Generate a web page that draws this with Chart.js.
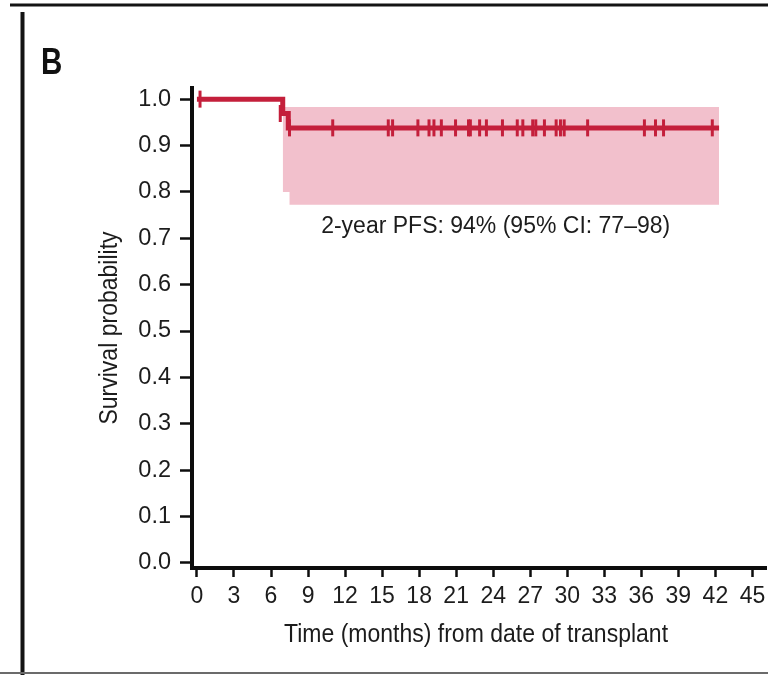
<!DOCTYPE html>
<html>
<head>
<meta charset="utf-8">
<title>Progression-free survival</title>
<script src="https://cdn.jsdelivr.net/npm/chart.js@4.4.1/dist/chart.umd.min.js"></script>
<style>
  html, body { margin: 0; padding: 0; background: #ffffff; }
  canvas { display: block; }
</style>
</head>
<body>
<canvas id="pfs" width="768" height="675"></canvas>
<script>
// Kaplan-Meier estimate (months from transplant, survival probability)
const kmTimes = [0, 6.95, 7.4, 42.3];
const kmSurvival = [1.0, 0.969, 0.938, 0.938];

// 95% confidence band
const ciTimes = [6.95, 7.5, 42.3];
const ciUpper = [0.983, 0.983, 0.983];
const ciLower = [0.80, 0.772, 0.772];

// Censored observations
const censorTimes = [0.25, 6.75, 7.5, 11.0, 15.5, 15.85, 17.9, 18.8, 19.2, 19.8,
  20.95, 22.0, 22.15, 22.9, 23.45, 24.75, 25.95, 26.4, 27.2, 27.45, 28.15,
  29.1, 29.45, 29.75, 31.65, 36.25, 37.15, 37.8, 41.75];
const censorSurvival = [1.0, 0.969, 0.938, 0.938, 0.938, 0.938, 0.938, 0.938, 0.938, 0.938,
  0.938, 0.938, 0.938, 0.938, 0.938, 0.938, 0.938, 0.938, 0.938, 0.938, 0.938,
  0.938, 0.938, 0.938, 0.938, 0.938, 0.938, 0.938, 0.938];

// Axis ticks
const xTicks = [0, 3, 6, 9, 12, 15, 18, 21, 24, 27, 30, 33, 36, 39, 42, 45];
const yTicks = [0.0, 0.1, 0.2, 0.3, 0.4, 0.5, 0.6, 0.7, 0.8, 0.9, 1.0];

const panelLabel = 'B';
const pfsNote = '2-year PFS: 94% (95% CI: 77\u201398)';
const xTitle = 'Time (months) from date of transplant';
const yTitle = 'Survival probability';

const RED = '#c41f3b';
const BAND = '#f2c0cc';
const INK = '#1c1c1c';
const tickFamily = "'Liberation Sans', Arial, sans-serif";

const toPoints = (xs, ys) => xs.map((x, i) => ({ x: x, y: ys[i] }));

// Condensed text: horizontally squeezed glyphs around (x, y)
function condensedText(ctx, text, x, y, font, squeeze, angle) {
  ctx.save();
  ctx.translate(x, y);
  ctx.rotate(angle);
  ctx.scale(squeeze, 1);
  ctx.font = font;
  ctx.fillText(text, 0, 0);
  ctx.restore();
}

// Frame rules, panel letter, axis titles and the PFS note
const decorations = {
  id: 'decorations',
  afterDraw(chart) {
    const ctx = chart.ctx;
    const xs = chart.scales.x, ys = chart.scales.y;
    const area = chart.chartArea;
    ctx.save();
    ctx.strokeStyle = '#141414';
    ctx.lineWidth = 3;
    ctx.beginPath(); ctx.moveTo(10, 5); ctx.lineTo(768, 5); ctx.stroke();
    ctx.lineWidth = 4;
    ctx.beginPath(); ctx.moveTo(22.5, 12); ctx.lineTo(22.5, 675); ctx.stroke();
    ctx.strokeStyle = '#6b6b6b';
    ctx.lineWidth = 2;
    ctx.beginPath(); ctx.moveTo(0, 673); ctx.lineTo(768, 673); ctx.stroke();

    ctx.fillStyle = '#111111';
    ctx.textAlign = 'left';
    ctx.textBaseline = 'alphabetic';
    condensedText(ctx, panelLabel, 41, 74, "bold 36px 'Liberation Sans', Arial, sans-serif", 0.82, 0);

    ctx.fillStyle = INK;
    ctx.textAlign = 'center';
    ctx.textBaseline = 'middle';
    condensedText(ctx, xTitle, 476, 635, "26px 'Liberation Sans', Arial, sans-serif", 0.885, 0);
    condensedText(ctx, yTitle, 110, (area.top + area.bottom) / 2, "26px 'Liberation Sans', Arial, sans-serif", 0.885, -Math.PI / 2);

    ctx.textBaseline = 'alphabetic';
    ctx.font = "23px 'Liberation Sans', Arial, sans-serif";
    ctx.fillText(pfsNote, xs.getPixelForValue(24.2), ys.getPixelForValue(0.712));
    ctx.restore();
  }
};

new Chart(document.getElementById('pfs'), {
  type: 'line',
  data: {
    datasets: [
      {
        label: 'CI upper',
        data: toPoints(ciTimes, ciUpper),
        stepped: 'before',
        borderWidth: 0,
        borderColor: 'rgba(0,0,0,0)',
        backgroundColor: BAND,
        pointRadius: 0,
        fill: '+1',
        order: 3
      },
      {
        label: 'CI lower',
        data: toPoints(ciTimes, ciLower),
        stepped: 'before',
        borderWidth: 0,
        borderColor: 'rgba(0,0,0,0)',
        pointRadius: 0,
        fill: false,
        order: 3
      },
      {
        label: 'PFS',
        data: toPoints(kmTimes, kmSurvival),
        stepped: 'before',
        borderColor: RED,
        borderWidth: 5,
        pointRadius: 0,
        fill: false,
        order: 2
      },
      {
        type: 'scatter',
        label: 'Censored',
        data: toPoints(censorTimes, censorSurvival),
        pointStyle: 'line',
        rotation: 90,
        pointRadius: 8.5,
        pointBorderWidth: 3,
        borderColor: RED,
        backgroundColor: RED,
        order: 1
      }
    ]
  },
  options: {
    responsive: false,
    animation: false,
    devicePixelRatio: 1,
    layout: { autoPadding: false, padding: { top: 88, left: 0, right: 2, bottom: 0 } },
    plugins: { legend: { display: false }, tooltip: { enabled: false } },
    scales: {
      x: {
        type: 'linear',
        min: -0.4,
        max: 46.1,
        afterFit(scale) { scale.height = 107; scale.paddingLeft = 0; scale.paddingRight = 0; },
        afterBuildTicks(scale) { scale.ticks = xTicks.map(v => ({ value: v })); },
        border: { display: true, color: '#0d0d0d', width: 4 },
        grid: { drawOnChartArea: false, drawTicks: true, tickLength: 9, tickWidth: 2.5, tickColor: '#0d0d0d' },
        ticks: { color: INK, font: { family: tickFamily, size: 23 }, padding: 6, maxRotation: 0, autoSkip: false, callback: v => String(v) },
        title: { display: false }
      },
      y: {
        type: 'linear',
        min: -0.011,
        max: 1.024,
        afterFit(scale) { scale.width = 192; scale.paddingTop = 0; scale.paddingBottom = 0; },
        afterBuildTicks(scale) { scale.ticks = yTicks.map(v => ({ value: v })); },
        border: { display: true, color: '#0d0d0d', width: 4 },
        grid: { drawOnChartArea: false, drawTicks: true, tickLength: 12, tickWidth: 2.5, tickColor: '#0d0d0d' },
        ticks: { color: INK, font: { family: tickFamily, size: 23.5 }, padding: 9, autoSkip: false, callback: v => v.toFixed(1) },
        title: { display: false }
      }
    }
  },
  plugins: [decorations]
});
</script>
</body>
</html>
